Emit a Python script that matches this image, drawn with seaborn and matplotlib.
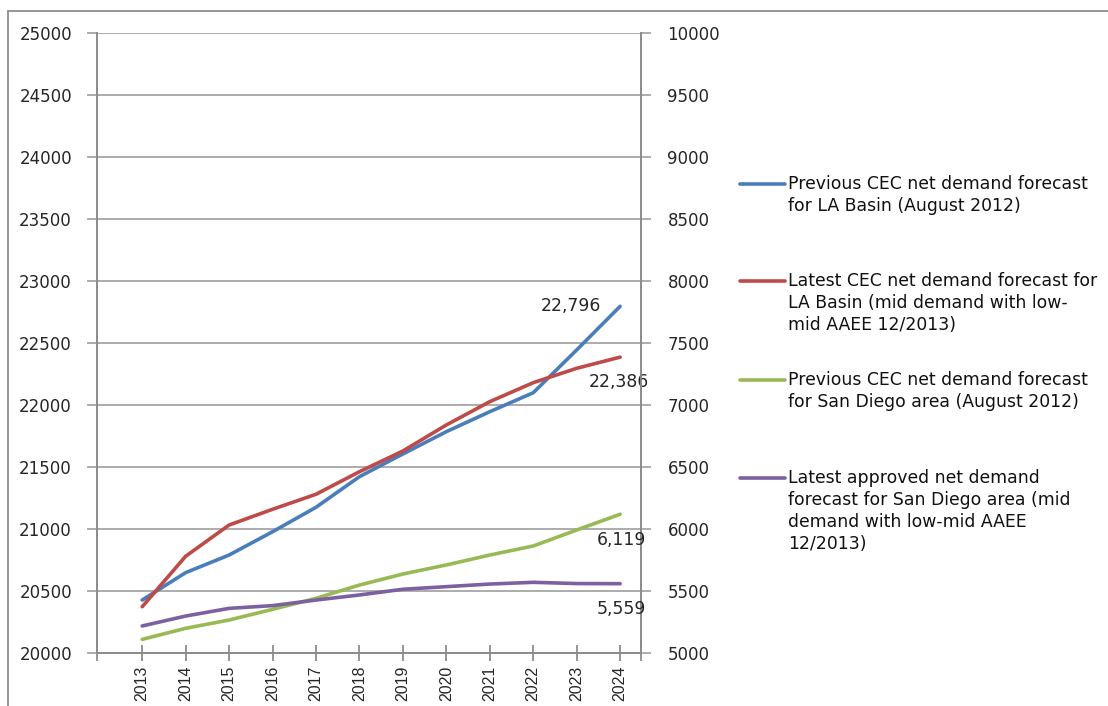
import matplotlib
matplotlib.use("Agg")
import matplotlib.pyplot as plt
from matplotlib.lines import Line2D
from matplotlib.patches import Rectangle
import pandas as pd
import seaborn as sns

# Net demand forecasts (MW), LA Basin on the left axis, San Diego on the right
years = [2013, 2014, 2015, 2016, 2017, 2018, 2019, 2020, 2021, 2022, 2023, 2024]
la_previous = [20427, 20648, 20790, 20978, 21175, 21422, 21605, 21785, 21946, 22099, 22444, 22796]
la_latest = [20373, 20780, 21032, 21159, 21280, 21462, 21629, 21839, 22027, 22180, 22296, 22386]
sd_previous = [5110, 5199, 5266, 5352, 5441, 5548, 5637, 5710, 5790, 5863, 5992, 6119]
sd_latest = [5218, 5298, 5360, 5382, 5427, 5468, 5514, 5535, 5556, 5570, 5560, 5559]

series_names = [
    "Previous CEC net demand forecast\nfor LA Basin (August 2012)",
    "Latest CEC net demand forecast for\nLA Basin (mid demand with low-\nmid AAEE 12/2013)",
    "Previous CEC net demand forecast\nfor San Diego area (August 2012)",
    "Latest approved net demand\nforecast for San Diego area (mid\ndemand with low-mid AAEE\n12/2013)",
]
series_colors = ["#4A7EBB", "#BE4B48", "#98B954", "#7D60A0"]

left_ticks = [20000, 20500, 21000, 21500, 22000, 22500, 23000, 23500, 24000, 24500, 25000]
right_ticks = [5000, 5500, 6000, 6500, 7000, 7500, 8000, 8500, 9000, 9500, 10000]

sns.set_style("white")
plt.rcParams["font.family"] = ["DejaVu Sans"]

W, H = 1108, 706
fig = plt.figure(figsize=(W / 100, H / 100), dpi=100)
ax = fig.add_axes([97 / W, 1 - 653 / H, 544 / W, 620 / H])
ax2 = ax.twinx()

grid_c = "#A6A6A6"
spine_c = "#8C8C8C"
text_c = "#262626"
lw = 2.6

df = pd.DataFrame({"year": years, "la_prev": la_previous, "la_new": la_latest,
                   "sd_prev": sd_previous, "sd_new": sd_latest})

sns.lineplot(data=df, x="year", y="la_prev", ax=ax, color=series_colors[0], linewidth=lw, zorder=3)
sns.lineplot(data=df, x="year", y="la_new", ax=ax, color=series_colors[1], linewidth=lw, zorder=3)
sns.lineplot(data=df, x="year", y="sd_prev", ax=ax2, color=series_colors[2], linewidth=lw, zorder=3)
sns.lineplot(data=df, x="year", y="sd_new", ax=ax2, color=series_colors[3], linewidth=lw, zorder=3)

xmin, xmax = 2011.96, 2024.48
ax.set_xlim(xmin, xmax)
ax.set_ylim(20000, 25000)
ax2.set_ylim(5000, 10000)
ax.set_yticks(left_ticks)
ax2.set_yticks(right_ticks)
ax.set_xticks(years)
ax.set_xticks([xmin, xmax], minor=True)

ax.set_xlabel("")
ax.set_ylabel("")
ax2.set_ylabel("")

ax.yaxis.grid(True, color=grid_c, linewidth=1.3)
ax.xaxis.grid(False)
ax2.grid(False)

for a in (ax, ax2):
    for s in a.spines.values():
        s.set_color(spine_c)
        s.set_linewidth(1.3)
    a.spines["top"].set_visible(False)

ax.tick_params(axis="y", direction="out", length=7, width=1.3, color=grid_c,
               labelsize=12, labelcolor=text_c, pad=11, left=True)
ax2.tick_params(axis="y", direction="out", length=7, width=1.3, color=grid_c,
                labelsize=12, labelcolor=text_c, pad=12, right=True)
ax.tick_params(axis="x", which="both", direction="inout", length=11, width=1.3,
               color=spine_c, bottom=True)
ax.set_xticklabels([str(y) for y in years], rotation=90, fontsize=11.5,
                   color=text_c, family="Liberation Sans")

# End-point value labels
ann = dict(textcoords="offset pixels", fontsize=12.4, color=text_c)
ax.annotate(f"{la_previous[-1]:,}", (years[-1], la_previous[-1]), xytext=(-19, 0),
            ha="right", va="center", **ann)
ax.annotate(f"{la_latest[-1]:,}", (years[-1], la_latest[-1]), xytext=(-1, -25),
            ha="center", va="center", **ann)
ax2.annotate(f"{sd_previous[-1]:,}", (years[-1], sd_previous[-1]), xytext=(1, -26),
             ha="center", va="center", **ann)
ax2.annotate(f"{sd_latest[-1]:,}", (years[-1], sd_latest[-1]), xytext=(1, -25),
             ha="center", va="center", **ann)

# Legend on the right, key aligned with the first line of each entry
legend_rows = [184, 281, 380, 478]
for name, color, row in zip(series_names, series_colors, legend_rows):
    fig.add_artist(Line2D([740 / W, 785 / W], [1 - row / H] * 2, color=color,
                          linewidth=lw, transform=fig.transFigure))
    for k, line in enumerate(name.split("\n")):
        fig.text(788 / W, 1 - (row + 22 * k) / H, line, fontsize=12.4,
                 color="#111111", va="center", ha="left")

# Chart frame
fig.add_artist(Rectangle((8 / W, -0.05), 1.2, (H - 11) / H + 0.05, fill=False,
                         edgecolor="#8C8C8C", linewidth=1.3, transform=fig.transFigure))

fig.savefig("out.png", dpi=100, facecolor="white")
